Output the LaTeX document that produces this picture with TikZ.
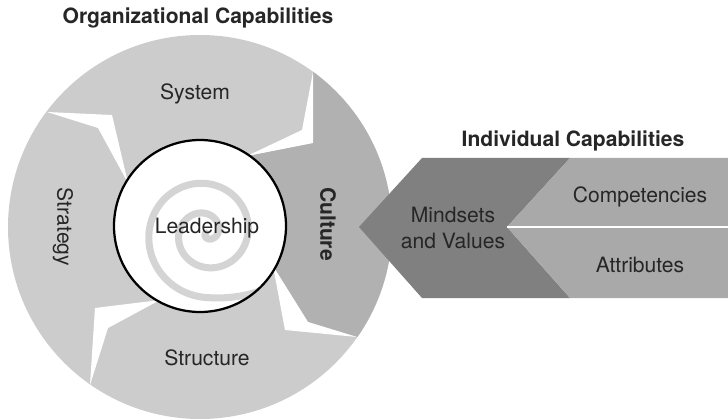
\documentclass[tikz,border=0pt]{standalone}
\usepackage{fontspec}
\setmainfont{TeX Gyre Heros}

\definecolor{ringgray}{HTML}{CCCCCC}
\definecolor{culturegray}{HTML}{B1B1B1}
\definecolor{mindgray}{HTML}{808080}
\definecolor{skillgray}{HTML}{A9A9A9}
\definecolor{spiralgray}{HTML}{D4D4D4}

\tikzset{
    label text/.style={text=black!85, font=\fontsize{15}{18}\selectfont},
    head text/.style={text=black!85, font=\fontsize{15}{18}\selectfont\bfseries},
}

\begin{document}
\begin{tikzpicture}[x=0.25mm, y=-0.25mm]
    \useasboundingbox (0,0) rectangle (728,419);
    \coordinate (C) at (200,227);
    \coordinate (I) at (200,226);

    % Draw Ring
    \fill[ringgray] (C) circle (192);
    \begin{scope}
        \clip (C) circle (192);
        \fill[culturegray] (313,30) -- (313,143) -- (247,156) -- (C) -- (273,266) -- (308,322) -- (400,350) -- (420,350) -- (420,30) -- cycle;
    \end{scope}

    % Draw Notches
    \fill[white] (47,112) -- (112,115) -- (128,183) -- (98,128) -- cycle;
    \fill[white] (313,72) -- (313,143) -- (247,156) -- (302,130) -- cycle;
    \fill[white] (273,266) -- (285,330) -- (357,337) -- (308,322) -- cycle;
    \fill[white] (160,300) -- (95,308) -- (90,385) -- (108,328) -- cycle;

    % Draw Leadership
    \begin{scope}
        \clip (I) circle (86);
        \fill[white] (I) circle (86);
        \draw[spiralgray, line width=5pt, line cap=round] plot[domain=216:1070, samples=300, variable=\t]
            ({206+(-18+\t/12+0.006*max(0,\t-990)*max(0,\t-990))*cos(\t)},
             {233-(-18+\t/12+0.006*max(0,\t-990)*max(0,\t-990))*sin(\t)});
    \end{scope}
    \draw[line width=1.6pt] (I) circle (86);

    % Draw Chevron
    \fill[mindgray] (359,227) -- (422,158) -- (570,158) -- (507,227) -- (570,298) -- (422,298) -- cycle;
    \fill[skillgray] (570,158) -- (728,158) -- (728,298) -- (570,298) -- (507,227) -- cycle;
    \draw[white, line width=1.5pt] (507,227) -- (728,227);

    % Add Labels
    \node[head text] (orgcap) at (198,18) {Organizational Capabilities};
    \node[head text] (indcap) at (573,141) {Individual Capabilities};
    \node[label text] (system) at (195,94) {System};
    \node[label text, rotate=-90] (strategy) at (63,227) {Strategy};
    \node[head text, rotate=-90] (culture) at (328,224) {Culture};
    \node[label text] (leadership) at (207,228) {Leadership};
    \node[label text] (structure) at (207,358) {Structure};
    \node[label text, align=center] (mindsets) at (453,228) {Mindsets\\and Values};
    \node[label text] (competencies) at (640,197) {Competencies};
    \node[label text] (attributes) at (640,265) {Attributes};
\end{tikzpicture}
\end{document}
